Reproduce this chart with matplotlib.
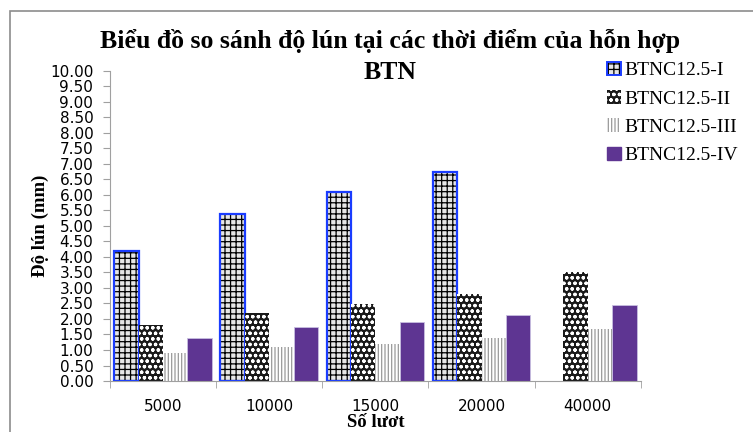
import matplotlib.pyplot as plt
from matplotlib.patches import Patch, Rectangle
import numpy as np

# dữ liệu
categories = ['5000', '10000', '15000', '20000', '40000']
series_names = ['BTNC12.5-I', 'BTNC12.5-II', 'BTNC12.5-III', 'BTNC12.5-IV']
btnc_1 = [4.20, 5.40, 6.10, 6.75, np.nan]   # không có số liệu ở 40000
btnc_2 = [1.80, 2.19, 2.48, 2.80, 3.51]
btnc_3 = [0.89, 1.09, 1.19, 1.40, 1.68]
btnc_4 = [1.40, 1.75, 1.90, 2.12, 2.45]
y_ticks = np.arange(0, 10.01, 0.5)

plt.rcParams['hatch.linewidth'] = 0.9
serif = ['Liberation Serif', 'DejaVu Serif']

fig = plt.figure(figsize=(7.53, 4.32), dpi=100)
ax = fig.add_axes([0.146, 0.118, 0.705, 0.718])

# khung biểu đồ
fig.patches.append(Rectangle((10 / 753, -0.1), 1.0, 1 - 11 / 432 + 0.1,
                             transform=fig.transFigure, fill=False,
                             edgecolor='#8c8c8c', lw=1.2))

x = np.arange(len(categories))
w = 0.23
offs = np.array([-1.5, -0.5, 0.5, 1.5]) * w

# series I: gạch, viền xanh
ax.bar(x + offs[0], btnc_1, w, facecolor='#e6e6e6', edgecolor='black',
       hatch='+++', lw=0)
ax.bar(x + offs[0], btnc_1, w, fill=False, edgecolor='#1a3cff', lw=1.6)
ax.bar(x + offs[1], btnc_2, w, facecolor='#1a1a1a', edgecolor='white',
       hatch='ooo', lw=0)
ax.bar(x + offs[2], btnc_3, w, facecolor='white', edgecolor='#9a9a9a',
       hatch='|||||', lw=0)
ax.bar(x + offs[3], btnc_4, w, facecolor='#5e3592', edgecolor='#c8bfe0',
       lw=0.6)

ax.set_xlim(-0.5, len(categories) - 0.5)
ax.set_ylim(0, 10)
ax.set_yticks(y_ticks)
ax.set_yticklabels([f'{v:.2f}' for v in y_ticks], fontsize=11)
ax.set_xticks(x)
ax.set_xticklabels(categories, fontsize=11)
ax.set_xticks(np.arange(-0.5, len(categories)), minor=True)
ax.tick_params(axis='x', which='major', length=0, pad=13)
ax.tick_params(axis='x', which='minor', length=5, color='#a0a0a0')
ax.tick_params(axis='y', length=5, color='#a0a0a0', pad=7)
for s in ['top', 'right']:
    ax.spines[s].set_visible(False)
for s in ['left', 'bottom']:
    ax.spines[s].set_color('#a0a0a0')

ax.set_xlabel('Số lươt', family=serif, fontsize=13.5, fontweight='bold',
              labelpad=0)
ax.set_ylabel('Độ lún (mm)', family=serif, fontsize=13.5, fontweight='bold',
              labelpad=1)
fig.text(0.518, 0.905, 'Biểu đồ so sánh độ lún tại các thời điểm của hỗn hợp',
         ha='center', va='center', family=serif, fontsize=18.5,
         fontweight='bold')
fig.text(0.518, 0.833, 'BTN', ha='center', va='center', family=serif,
         fontsize=18.5, fontweight='bold')

# chú thích
handles = [
    (Patch(facecolor='#e6e6e6', edgecolor='black', hatch='+++', lw=0),
     Patch(fill=False, edgecolor='#1a3cff', lw=1.4)),
    Patch(facecolor='#1a1a1a', edgecolor='white', hatch='ooo', lw=0),
    Patch(facecolor='white', edgecolor='#9a9a9a', hatch='|||||', lw=0),
    Patch(facecolor='#5e3592', edgecolor='#5e3592'),
]
fig.legend(handles, series_names, loc='upper left',
           bbox_to_anchor=(0.796, 0.875), frameon=False,
           prop={'family': serif, 'size': 14}, handlelength=0.7,
           handleheight=0.7, handletextpad=0.2, labelspacing=0.55,
           borderaxespad=0)

plt.savefig('out.png', dpi=100)
